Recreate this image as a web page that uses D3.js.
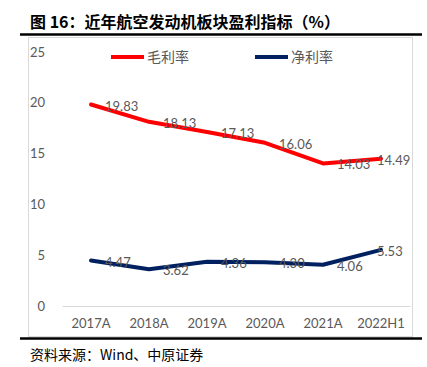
<!DOCTYPE html>
<html>
<head>
<meta charset="utf-8">
<script src="https://cdn.jsdelivr.net/npm/d3@7"></script>
<style>
  body { margin: 0; background: #fff; }
  text { font-family: Lato, "Noto Sans CJK SC", sans-serif; }
</style>
</head>
<body>
<script>
var categories = ['2017A', '2018A', '2019A', '2020A', '2021A', '2022H1'];
var grossMargin = [19.83, 18.13, 17.13, 16.06, 14.03, 14.49];
var netMargin = [4.47, 3.62, 4.36, 4.30, 4.06, 5.53];
var yTicks = [0, 5, 10, 15, 20, 25];
var seriesNames = ['毛利率', '净利率'];

var svg = d3.select('body').append('svg').attr('width', 427).attr('height', 367);

var xScale = d3.scaleBand().domain(categories).range([62, 410]);
var yScale = d3.scaleLinear().domain([0, 25]).range([306, 52]);

// title
svg.append('text')
  .attr('x', 30).attr('y', 28)
  .attr('font-size', '16px').attr('font-weight', 'bold')
  .attr('fill', '#000')
  .style('font-family', '"Noto Sans CJK SC", sans-serif')
  .text('图 16：近年航空发动机板块盈利指标（%）');

svg.append('line').attr('x1', 20).attr('x2', 422).attr('y1', 34.5).attr('y2', 34.5)
  .attr('stroke', '#000').attr('stroke-width', 2.5);

// chart frame
svg.append('rect').attr('x', 28.5).attr('y', 37.5).attr('width', 384).attr('height', 299)
  .attr('fill', 'none').attr('stroke', '#d9d9d9').attr('stroke-width', 1);

svg.append('line').attr('x1', 20).attr('x2', 422).attr('y1', 338.5).attr('y2', 338.5)
  .attr('stroke', '#000').attr('stroke-width', 2.5);

// source
svg.append('text')
  .attr('x', 30).attr('y', 360)
  .attr('font-size', '14px').attr('fill', '#000')
  .style('font-family', '"Noto Sans CJK SC", sans-serif')
  .text('资料来源：Wind、中原证券');

// y axis
var yAxis = svg.append('g')
  .attr('transform', 'translate(62,0)')
  .call(d3.axisLeft(yScale).tickValues(yTicks).tickSize(0).tickPadding(17));
yAxis.select('.domain').remove();
yAxis.selectAll('text').attr('font-size', '13px').attr('fill', '#595959');

// x axis
var xAxis = svg.append('g')
  .attr('transform', 'translate(0,306)')
  .call(d3.axisBottom(xScale).tickSize(0).tickPadding(13));
xAxis.select('.domain').attr('stroke', '#d9d9d9');
xAxis.selectAll('text').attr('font-size', '13px').attr('fill', '#595959');

function px(i) { return xScale(categories[i]) + xScale.bandwidth() / 2; }

var line = d3.line()
  .x(function (d, i) { return px(i); })
  .y(function (d) { return yScale(d); });

var series = [
  { name: seriesNames[0], values: grossMargin, color: '#ff0000' },
  { name: seriesNames[1], values: netMargin, color: '#002060' }
];

series.forEach(function (s) {
  svg.append('path')
    .datum(s.values)
    .attr('d', line)
    .attr('fill', 'none')
    .attr('stroke', s.color)
    .attr('stroke-width', 4)
    .attr('stroke-linejoin', 'round')
    .attr('stroke-linecap', 'round');
});

series.forEach(function (s) {
  svg.selectAll(null)
    .data(s.values)
    .enter()
    .append('text')
    .attr('x', function (d, i) { return i === categories.length - 1 ? px(i) - 4 : px(i) + 14; })
    .attr('y', function (d) { return yScale(d) + 6; })
    .attr('font-size', '13px')
    .attr('fill', '#595959')
    .text(function (d) { return d.toFixed(2); });
});

// legend
var legendX = [111, 255];
series.forEach(function (s, i) {
  svg.append('line')
    .attr('x1', legendX[i]).attr('x2', legendX[i] + 33)
    .attr('y1', 57).attr('y2', 57)
    .attr('stroke', s.color).attr('stroke-width', 4);
  svg.append('text')
    .attr('x', legendX[i] + 36).attr('y', 62)
    .attr('font-size', '14px').attr('fill', '#595959')
    .style('font-family', '"Noto Sans CJK SC", sans-serif')
    .text(s.name);
});
</script>
</body>
</html>
